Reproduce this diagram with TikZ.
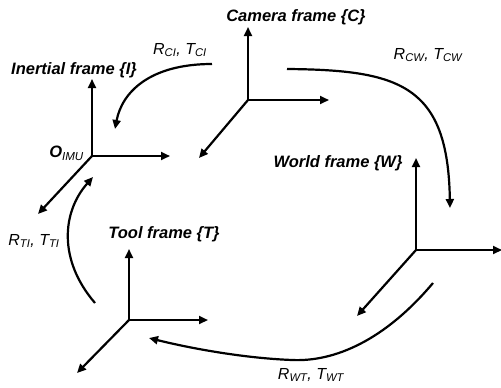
\documentclass[tikz,border=0pt]{standalone}
\usepackage{fontspec}
\setmainfont{Liberation Sans}
\usetikzlibrary{arrows.meta}
\begin{document}
\begin{tikzpicture}[x=1pt,y=-1pt,
  axis/.style={line width=2.2pt,-{Triangle[length=9pt,width=8pt]}},
  trans/.style={line width=2.2pt,-{Triangle[length=9pt,width=8pt]}},
  flabel/.style={font=\fontsize{16.5}{18}\selectfont\bfseries\itshape,inner sep=0pt},
  tlabel/.style={font=\fontsize{16}{18}\selectfont\itshape,inner sep=0pt}]
\useasboundingbox (0,0) rectangle (501,388);
% Inertial frame
\coordinate (oI) at (92,156);
\coordinate (iU) at (92,79);
\coordinate (iR) at (170,156);
\coordinate (iD) at (38,214);
\draw[axis] (oI) -- (iU);
\draw[axis] (oI) -- (iR);
\draw[axis] (oI) -- (iD);
\node[flabel] (ti) at (74,70) {Inertial frame \{I\}};
\node[flabel,anchor=east] (oimu) at (84,153) {O$_{\mathit{IMU}}$};
% Camera frame
\coordinate (oC) at (248,100);
\coordinate (cU) at (248,27);
\coordinate (cR) at (329,100);
\coordinate (cD) at (199,158);
\draw[axis] (oC) -- (cU);
\draw[axis] (oC) -- (cR);
\draw[axis] (oC) -- (cD);
\node[flabel] (tc) at (296,17) {Camera frame \{C\}};
% World frame
\coordinate (oW) at (416,250);
\coordinate (wU) at (416,158);
\coordinate (wR) at (502,250);
\coordinate (wD) at (357,316);
\draw[axis] (oW) -- (wU);
\draw[axis] (oW) -- (wR);
\draw[axis] (oW) -- (wD);
\node[flabel] (tw) at (338,163) {World frame \{W\}};
% Tool frame
\coordinate (oT) at (129,320);
\coordinate (tU) at (129,249);
\coordinate (tR) at (208,320);
\coordinate (tD) at (77,373);
\draw[axis] (oT) -- (tU);
\draw[axis] (oT) -- (tR);
\draw[axis] (oT) -- (tD);
\node[flabel] (tt) at (164,234) {Tool frame \{T\}};
% transformations
\coordinate (ci1) at (212,64);
\coordinate (ci2) at (115,129);
\draw[trans] (ci1) .. controls (150,64) and (122,92) .. (ci2);
\node[tlabel] (lci) at (180,50) {R$_{\mathit{CI}}$, T$_{\mathit{CI}}$};
\coordinate (cw1) at (287,69);
\coordinate (cw2) at (450,208);
\draw[trans] (cw1) .. controls (400,70) and (448,85) .. (cw2);
\node[tlabel] (lcw) at (428,55) {R$_{\mathit{CW}}$, T$_{\mathit{CW}}$};
\coordinate (wt1) at (433,283);
\coordinate (wtm) at (292,360);
\coordinate (wt2) at (149,338);
\draw[trans] (wt1) .. controls (385,340) and (335,362) .. (wtm) .. controls (240,358) and (185,347) .. (wt2);
\node[tlabel] (lwt) at (311,375) {R$_{\mathit{WT}}$, T$_{\mathit{WT}}$};
\coordinate (ti1) at (95,303);
\coordinate (ti2) at (93,177);
\draw[trans] (ti1) .. controls (58,260) and (62,212) .. (ti2);
\node[tlabel] (lti) at (34,241) {R$_{\mathit{TI}}$, T$_{\mathit{TI}}$};
\end{tikzpicture}
\end{document}
